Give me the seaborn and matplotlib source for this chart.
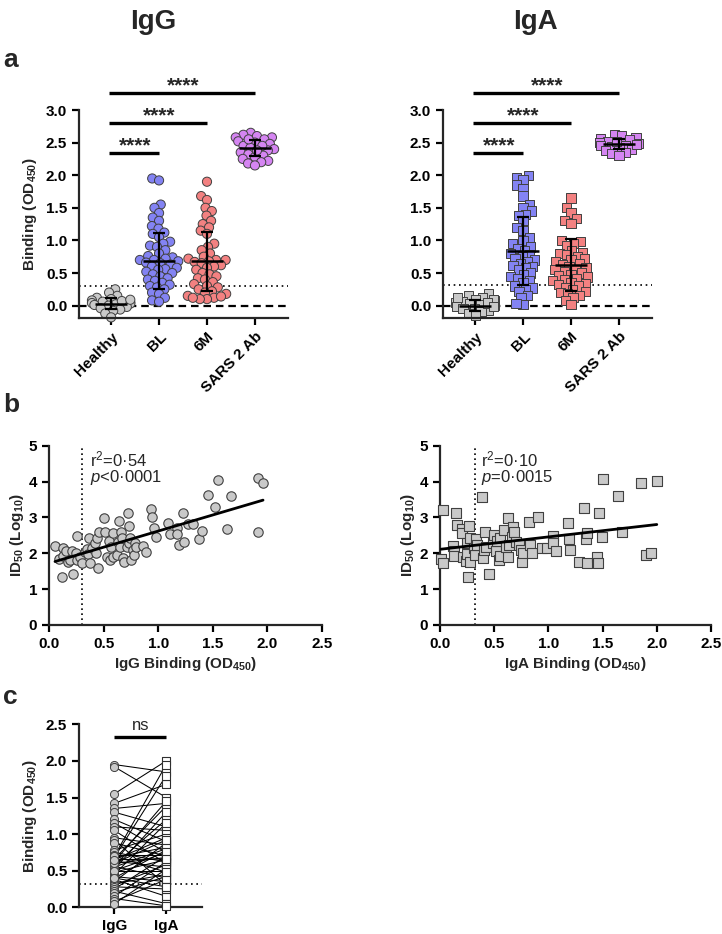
import numpy as np
import pandas as pd
import matplotlib
matplotlib.use("Agg")
import matplotlib.pyplot as plt
from matplotlib.collections import PathCollection
import seaborn as sns

sns.set_theme(style="ticks")
plt.rcParams['font.family'] = ['Liberation Sans', 'DejaVu Sans']
plt.rcParams['font.weight'] = 'bold'
plt.rcParams['axes.labelweight'] = 'bold'
plt.rcParams['mathtext.default'] = 'regular'
plt.rcParams['mathtext.fontset'] = 'custom'
plt.rcParams['mathtext.it'] = 'Liberation Sans:style=italic:weight=normal'
plt.rcParams['mathtext.rm'] = 'Liberation Sans:weight=normal'
plt.rcParams['axes.linewidth'] = 1.6

# ---------------- data ----------------
groups = ["Healthy", "BL", "6M", "SARS 2 Ab"]
group_colors = ["#C9C9C9", "#8383F3", "#F38181", "#D585F2"]

igg_healthy = [0.25, 0.2, 0.15, 0.12, 0.1, 0.08, 0.06, 0.05, 0.04, 0.03, 0.02, 0.01,
               0.0, -0.02, -0.04, -0.06, -0.08, -0.12, -0.18, 0.07, 0.09]
igg_bl = [1.95, 1.92, 1.55, 1.5, 1.42, 1.35, 1.3, 1.22, 1.18, 1.12, 1.1, 1.05, 0.98, 0.95,
          0.92, 0.9, 0.85, 0.8, 0.76, 0.74, 0.72, 0.7, 0.7, 0.68, 0.66, 0.65, 0.63, 0.6,
          0.58, 0.56, 0.55, 0.52, 0.5, 0.48, 0.45, 0.42, 0.4, 0.38, 0.35, 0.32, 0.3, 0.28,
          0.25, 0.2, 0.18, 0.12, 0.08, 0.06]
igg_6m = [1.9, 1.68, 1.62, 1.5, 1.45, 1.38, 1.3, 1.25, 1.2, 1.15, 1.1, 0.95, 0.9, 0.85,
          0.8, 0.75, 0.72, 0.7, 0.7, 0.68, 0.67, 0.65, 0.62, 0.6, 0.58, 0.55, 0.5, 0.48,
          0.45, 0.42, 0.4, 0.36, 0.33, 0.3, 0.28, 0.25, 0.22, 0.2, 0.18, 0.15, 0.12, 0.1,
          0.1, 0.12, 0.14]
igg_sars = [2.65, 2.62, 2.6, 2.58, 2.58, 2.55, 2.52, 2.5, 2.48, 2.45, 2.42, 2.4, 2.38,
            2.35, 2.32, 2.3, 2.28, 2.25, 2.22, 2.2, 2.18, 2.15, 2.45, 2.55, 2.38]
igg_mean = [0.03, 0.69, 0.68, 2.42]
igg_sd = [0.08, 0.43, 0.45, 0.12]

iga_healthy = [0.18, 0.15, 0.12, 0.1, 0.08, 0.06, 0.05, 0.03, 0.02, 0.0, -0.02, -0.04,
               -0.05, -0.07, -0.09, -0.12, -0.15, 0.1, 0.04, -0.01, 0.13]
iga_bl = [2.0, 1.97, 1.93, 1.85, 1.8, 1.68, 1.55, 1.5, 1.45, 1.4, 1.38, 1.3, 1.2, 1.15,
          1.05, 1.0, 0.95, 0.9, 0.88, 0.85, 0.8, 0.78, 0.75, 0.72, 0.7, 0.68, 0.65, 0.62,
          0.6, 0.58, 0.55, 0.5, 0.48, 0.45, 0.42, 0.38, 0.35, 0.3, 0.27, 0.25, 0.22, 0.15,
          0.12, 0.02, 0.03]
iga_6m = [1.65, 1.5, 1.42, 1.33, 1.3, 1.26, 1.0, 0.98, 0.95, 0.92, 0.85, 0.82, 0.8, 0.78,
          0.75, 0.72, 0.7, 0.68, 0.65, 0.63, 0.6, 0.58, 0.56, 0.55, 0.52, 0.5, 0.48, 0.46,
          0.44, 0.42, 0.4, 0.38, 0.36, 0.34, 0.32, 0.3, 0.28, 0.25, 0.22, 0.2, 0.18, 0.15,
          0.12, 0.08, 0.02]
iga_sars = [2.62, 2.6, 2.58, 2.56, 2.55, 2.52, 2.5, 2.5, 2.48, 2.46, 2.45, 2.44, 2.42,
            2.4, 2.38, 2.35, 2.33, 2.3, 2.52, 2.47]
iga_mean = [0.0, 0.84, 0.62, 2.48]
iga_sd = [0.09, 0.52, 0.40, 0.08]

sig_pairs = [(0, 1), (0, 2), (0, 3)]
sig_labels = ["****", "****", "****"]
cutoff_igg = 0.30
cutoff_iga = 0.32

# panel b
b_igg_x = [0.055, 0.095, 0.115, 0.13, 0.125, 0.16, 0.178, 0.19, 0.22, 0.21, 0.25, 0.26,
           0.26, 0.28, 0.3, 0.33, 0.345, 0.36, 0.37, 0.38, 0.39, 0.42, 0.43, 0.44, 0.45,
           0.455, 0.5, 0.51, 0.535, 0.545, 0.56, 0.565, 0.59, 0.59, 0.62, 0.635, 0.645,
           0.65, 0.655, 0.67, 0.68, 0.69, 0.71, 0.72, 0.73, 0.735, 0.745, 0.755, 0.765,
           0.775, 0.79, 0.8, 0.86, 0.89, 0.93, 0.945, 0.96, 0.98, 1.09, 1.11, 1.17, 1.17,
           1.19, 1.23, 1.24, 1.27, 1.32, 1.37, 1.4, 1.46, 1.52, 1.55, 1.63, 1.67, 1.91,
           1.96, 1.91]
b_igg_y = [2.2, 1.84, 1.35, 2.16, 1.93, 2.07, 1.77, 1.81, 1.42, 2.07, 2.02, 2.49,
           1.81, 1.9, 1.72, 2.04, 2.11, 1.98, 2.42, 1.74, 2.14, 2.3, 2.02, 2.44, 1.58,
           2.6, 2.97, 2.6, 1.9, 2.34, 1.81, 2.18, 2.56, 1.89, 1.95, 2.32, 2.9,
           2.18, 2.6, 2.42, 1.86, 1.77, 2.18, 3.13, 2.76, 2.28, 2.42, 1.81, 2.09,
           1.95, 2.28, 2.18, 2.2, 2.04, 3.23, 3.02, 2.7, 2.45, 2.84, 2.53, 2.71, 2.54,
           2.23, 3.13, 2.32, 2.82, 2.82, 2.41, 2.63, 3.63, 3.28, 4.04, 2.67, 3.6, 4.11,
           3.97, 2.6]
b_iga_x = [0.03, 0.01, 0.025, 0.117, 0.13, 0.13, 0.145, 0.155, 0.2, 0.2, 0.21, 0.24,
           0.245, 0.25, 0.26, 0.265, 0.275, 0.28, 0.31, 0.32, 0.33, 0.34, 0.385, 0.4,
           0.405, 0.415, 0.42, 0.45, 0.49, 0.5, 0.52, 0.53, 0.54, 0.55, 0.55, 0.59, 0.61,
           0.63, 0.63, 0.64, 0.66, 0.67, 0.68, 0.7, 0.73, 0.75, 0.76, 0.77, 0.82, 0.83,
           0.85, 0.9, 0.94, 0.99, 1.04, 1.04, 1.07, 1.18, 1.19, 1.2, 1.28, 1.33, 1.35,
           1.36, 1.36, 1.45, 1.46, 1.47, 1.49, 1.5, 1.64, 1.68, 1.85, 1.9, 1.95, 2.0]
b_iga_y = [3.21, 1.84, 1.72, 2.2, 2.07, 1.93, 3.12, 2.79, 2.67, 2.56, 1.89, 1.79,
           2.3, 1.98, 1.35, 2.76, 2.42, 1.77, 2.14, 1.95, 2.39, 2.23, 3.56, 1.86,
           2.09, 2.58, 2.18, 1.42, 2.28, 2.51, 2.07, 2.34, 1.82, 1.93, 2.42, 2.65, 2.18,
           1.9, 2.97, 2.23, 2.46, 2.74, 2.6, 2.31, 2.23, 2.09, 1.77, 2.0, 2.88, 2.23,
           2.0, 3.0, 2.14, 2.14, 2.47, 2.3, 2.07, 2.84, 2.39, 2.09, 1.77, 3.26, 2.39,
           1.72, 2.57, 1.9, 1.74, 3.13, 2.46, 4.07, 3.61, 2.6, 3.95, 1.95, 2.02, 4.02]
r2_igg, p_igg = "0·54", "<0·0001"
r2_iga, p_iga = "0·10", "=0·0015"

# panel c (paired IgG / IgA binding)
c_igg = [1.95, 1.92, 1.55, 1.42, 1.35, 1.3, 1.2, 1.15, 1.1, 1.05, 0.95, 0.92, 0.88, 0.78,
         0.75, 0.72, 0.7, 0.68, 0.66, 0.65, 0.63, 0.62, 0.6, 0.58, 0.56, 0.55, 0.52, 0.5,
         0.48, 0.45, 0.42, 0.4, 0.38, 0.35, 0.32, 0.3, 0.28, 0.25, 0.22, 0.2, 0.15, 0.12,
         0.08, 0.05, 0.68, 0.7, 0.6, 0.5, 0.4, 0.65]
c_iga = [1.85, 1.5, 2.0, 1.68, 1.42, 1.1, 0.9, 0.75, 1.05, 0.6, 0.85, 0.3, 0.7, 1.0,
         0.62, 0.72, 1.95, 1.8, 1.38, 0.95, 0.55, 1.45, 0.68, 1.2, 0.4, 0.8, 1.3, 0.5,
         0.65, 1.15, 0.35, 0.78, 0.15, 0.88, 0.45, 0.58, 0.25, 0.7, 0.05, 0.42, 0.62, 0.02,
         0.38, 0.52, 0.82, 0.48, 0.92, 0.75, 0.28, 0.66]
c_cats = ["IgG", "IgA"]
c_ns = "ns"
c_cutoff = 0.32

# ---------------- figure ----------------
W, H = 722, 934
fig = plt.figure(figsize=(W / 100, H / 100), dpi=100)


def add_ax(x0, x1, ytop, ybot):
    return fig.add_axes([x0 / W, 1 - ybot / H, (x1 - x0) / W, (ybot - ytop) / H])


def style_ax(ax):
    sns.despine(ax=ax)
    ax.tick_params(direction="out", length=5, width=1.6, labelsize=11, colors="black")
    for lab in ax.get_xticklabels() + ax.get_yticklabels():
        lab.set_fontweight("bold")


swarm_axes = []


def panel_a(ax, lists, means, sds, marker, cutoff, ylabel):
    df = pd.DataFrame({"group": np.repeat(groups, [len(v) for v in lists]),
                       "value": np.concatenate(lists)})
    ax.axhline(0, color="black", lw=1.6, ls=(0, (3.4, 2.2)), zorder=1)
    ax.axhline(cutoff, color="black", lw=1.2, ls=(0, (1, 2.2)), zorder=1)
    # swarm laid out with a small footprint so markers overlap like Prism
    sns.swarmplot(data=df, x="group", y="value", hue="group", order=groups,
                  hue_order=groups, palette=group_colors, marker=marker, size=4.2,
                  edgecolor="#404040", linewidth=0.7, legend=False, ax=ax, zorder=2,
                  clip_on=False)
    swarm_axes.append(ax)
    for i, (m, s) in enumerate(zip(means, sds)):
        ax.hlines(m, i - 0.34, i + 0.34, color="black", lw=1.8, zorder=5)
        ax.errorbar(i, m, yerr=s, fmt="none", ecolor="black", elinewidth=1.6,
                    capsize=4, capthick=1.6, zorder=5)
    ax.set_xlim(-0.67, 3.69)
    ax.set_ylim(-0.19, 3.0)
    ax.set_yticks(np.arange(0, 3.01, 0.5))
    ax.set_yticklabels([f"{v:.1f}" for v in np.arange(0, 3.01, 0.5)])
    ax.set_xlabel("")
    ax.set_ylabel(ylabel, fontsize=11, fontweight="bold", labelpad=5)
    style_ax(ax)
    ax.set_xticks(range(len(groups)))
    ax.set_xticklabels(groups, rotation=45, ha="right", va="top",
                       rotation_mode="anchor", fontsize=11, fontweight="bold")
    bar_y = [2.34, 2.80, 3.26]
    for (a, b), lab, y in zip(sig_pairs, sig_labels, bar_y):
        ax.plot([a - 0.05, b], [y, y], color="black", lw=2.4, clip_on=False,
                solid_capstyle="butt")
        ax.text((a + b) / 2, y + 0.03, lab, ha="center", va="baseline",
                fontsize=15, fontweight="bold", clip_on=False)


def panel_b(ax, x, y, marker, s, cutoff, r2, p, xlabel):
    ax.axvline(cutoff, color="black", lw=1.2, ls=(0, (1, 2)), zorder=1)
    sns.scatterplot(x=x, y=y, marker=marker, s=s, color="#C9C9C9",
                    edgecolor="#404040", linewidth=0.8, ax=ax, zorder=3,
                    clip_on=False)
    sns.regplot(x=x, y=y, ax=ax, ci=None, scatter=False, truncate=True,
                line_kws=dict(color="black", lw=2.0, zorder=4))
    ax.set_xlim(0, 2.5)
    ax.set_ylim(0, 5)
    ax.set_xticks(np.arange(0, 2.51, 0.5))
    ax.set_xticklabels([f"{v:.1f}" for v in np.arange(0, 2.51, 0.5)])
    ax.set_yticks(range(6))
    ax.set_xlabel(xlabel, fontsize=11, fontweight="bold", labelpad=3)
    ax.set_ylabel("ID$_{50}$ (Log$_{10}$)", fontsize=11, fontweight="bold", labelpad=2)
    style_ax(ax)
    ax.text(0.375, 4.63, f"r$^2$={r2}", fontsize=12, fontweight="normal",
            ha="left", va="center")
    ax.text(0.375, 4.11, f"$\\mathit{{p}}${p}", fontsize=12, fontweight="normal",
            ha="left", va="center")


# panel a
ax_a1 = add_ax(79, 288, 110, 318)
panel_a(ax_a1, [igg_healthy, igg_bl, igg_6m, igg_sars], igg_mean, igg_sd, "o",
        cutoff_igg, "Binding (OD$_{450}$)")
ax_a2 = add_ax(443, 652, 110, 318)
panel_a(ax_a2, [iga_healthy, iga_bl, iga_6m, iga_sars], iga_mean, iga_sd, "s",
        cutoff_iga, "")

# panel b
ax_b1 = add_ax(49, 322, 445.7, 625)
panel_b(ax_b1, b_igg_x, b_igg_y, "o", 46, cutoff_igg, r2_igg, p_igg,
        "IgG Binding (OD$_{450}$)")
ax_b2 = add_ax(440, 711, 445.7, 625)
panel_b(ax_b2, b_iga_x, b_iga_y, "s", 42, cutoff_iga, r2_iga, p_iga,
        "IgA Binding (OD$_{450}$)")

# panel c
ax_c = add_ax(79, 202, 724.3, 907.3)
dfc = pd.DataFrame({
    "pair": np.tile(np.arange(len(c_igg)), 2),
    "pos": np.repeat([0, 1], len(c_igg)),
    "value": np.concatenate([c_igg, c_iga]),
})
ax_c.axhline(c_cutoff, color="black", lw=1.2, ls=(0, (1, 2.2)), zorder=1)
sns.lineplot(data=dfc, x="pos", y="value", units="pair", estimator=None,
             color="black", lw=0.75, ax=ax_c, legend=False, zorder=2)
sns.scatterplot(x=np.zeros(len(c_igg)), y=c_igg, marker="o", s=34, color="#C9C9C9",
                edgecolor="#404040", linewidth=0.7, ax=ax_c, zorder=3, clip_on=False)
sns.scatterplot(x=np.ones(len(c_iga)), y=c_iga, marker="s", s=30, color="white",
                edgecolor="#303030", linewidth=0.8, ax=ax_c, zorder=3, clip_on=False)
ax_c.set_xlim(-0.68, 1.69)
ax_c.set_ylim(0, 2.5)
ax_c.set_yticks(np.arange(0, 2.51, 0.5))
ax_c.set_yticklabels([f"{v:.1f}" for v in np.arange(0, 2.51, 0.5)])
ax_c.set_xticks([0, 1])
ax_c.set_xticklabels(c_cats)
ax_c.set_xlabel("")
ax_c.set_ylabel("Binding (OD$_{450}$)", fontsize=11, fontweight="bold", labelpad=5)
style_ax(ax_c)
ax_c.plot([0, 1], [2.32, 2.32], color="black", lw=2.4, clip_on=False,
          solid_capstyle="butt")
ax_c.text(0.5, 2.42, c_ns, ha="center", va="baseline", fontsize=12,
          fontweight="normal", clip_on=False)

# titles and panel letters
fig.text(153 / W, 1 - 22 / H, "IgG", ha="center", va="center", fontsize=20,
         fontweight="bold")
fig.text(535 / W, 1 - 22 / H, "IgA", ha="center", va="center", fontsize=20,
         fontweight="bold")
for lab, yy in [("a", 60), ("b", 405), ("c", 697)]:
    fig.text(3 / W, 1 - yy / H, lab, ha="left", va="center", fontsize=19,
             fontweight="bold")

# freeze the swarm layout, then draw the markers at their full size
fig.canvas.draw()
for ax in swarm_axes:
    for coll in ax.collections:
        if isinstance(coll, PathCollection) and "draw" in coll.__dict__:
            del coll.__dict__["draw"]
            coll.set_sizes([6.6 ** 2])

fig.savefig("out.png", dpi=100)
